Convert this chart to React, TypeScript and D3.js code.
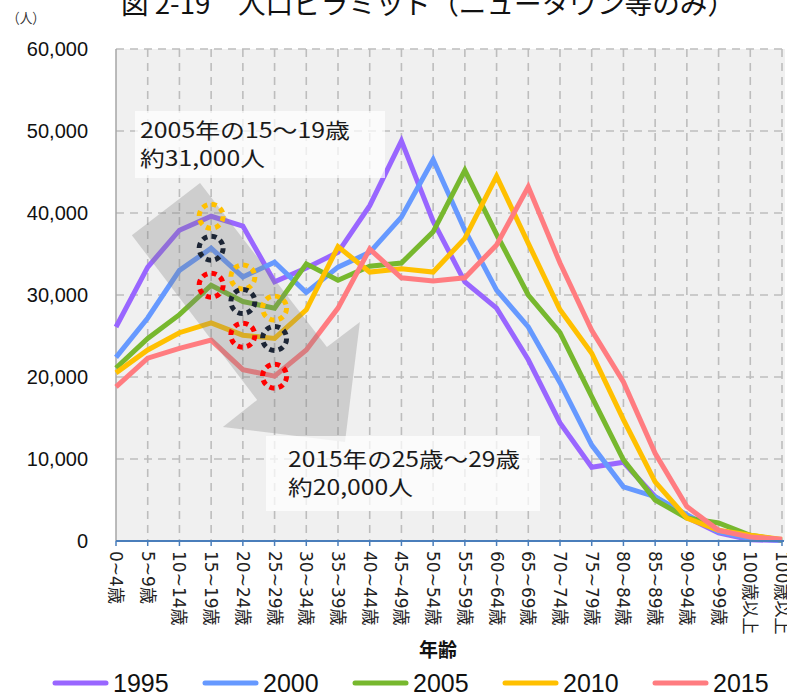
import React from "react";
import * as d3 from "d3";

const categories = [
  "0~4歳", "5~9歳", "10~14歳", "15~19歳", "20~24歳", "25~29歳", "30~34歳",
  "35~39歳", "40~44歳", "45~49歳", "50~54歳", "55~59歳", "60~64歳", "65~69歳",
  "70~74歳", "75~79歳", "80~84歳", "85~89歳", "90~94歳", "95~99歳", "100歳以上", "100歳以上",
];

const years = ["1995", "2000", "2005", "2010", "2015"];
const colors = ["#9966ff", "#6699ff", "#77b82e", "#ffc000", "#ff7c80"];

const v1995 = [26100, 33400, 37900, 39600, 38400, 31600, 33300, 35200, 40900, 48800, 39000, 31600, 28400, 22100, 14400, 9000, 9600, 5400, 2900, 1000, 150, 50];
const v2000 = [22400, 27200, 33000, 35700, 32200, 34000, 30300, 33400, 35200, 39500, 46500, 37900, 30600, 26100, 19300, 11700, 6600, 5400, 3200, 1100, 300, 100];
const v2005 = [21100, 24700, 27600, 31200, 29200, 28400, 33800, 31800, 33500, 33900, 37700, 45200, 37400, 30000, 25400, 17600, 9900, 5000, 2800, 2200, 700, 100];
const v2010 = [20500, 23300, 25400, 26600, 25100, 24700, 28200, 35900, 32800, 33200, 32800, 36900, 44500, 36300, 28200, 22900, 14800, 7200, 2800, 1300, 700, 200];
const v2015 = [18800, 22300, 23500, 24500, 20900, 20100, 23300, 28400, 35600, 32100, 31700, 32100, 36100, 43200, 33900, 25700, 19400, 10700, 4200, 1300, 500, 200];
const seriesValues = [v1995, v2000, v2005, v2010, v2015];

const yTicks = [0, 10000, 20000, 30000, 40000, 50000, 60000];

// cohort circles: [seriesIndex, categoryIndex]
const circleColors = ["#ffc000", "#1c2535", "#ff0000"];
const cohortYellow = [[0, 3], [1, 4], [2, 5]];
const cohortBlack = [[1, 3], [2, 4], [3, 5]];
const cohortRed = [[2, 3], [3, 4], [4, 5]];
const cohorts = [cohortYellow, cohortBlack, cohortRed];

// arrow polygon in (category index, value) space
const arrowPts = [
  [0.5, 37300], [2.65, 43650], [6.65, 23650], [7.69, 26700], [7.22, 12070], [3.37, 13900], [4.45, 17200],
];

const titleText = "図 2-19　人口ピラミッド（ニュータウン等のみ）";
const note1 = ["2005年の15〜19歳", "約31,000人"];
const note2 = ["2015年の25歳〜29歳", "約20,000人"];

const W = 787;
const H = 695;
const left = 116;
const right = 782;
const top = 49;
const bottom = 541;

const CJK = "'Noto Sans CJK JP', 'Noto Sans', sans-serif";
const LABEL = "'DejaVu Sans', 'Noto Sans CJK JP', sans-serif";
const SANS = "'Liberation Sans', Arial, sans-serif";

export default function App() {
  const x = d3.scaleLinear().domain([0, categories.length - 1]).range([left, right]);
  const y = d3.scaleLinear().domain([0, 60000]).range([bottom, top]);

  const line = d3
    .line<number>()
    .x((_, i) => x(i))
    .y((d) => y(d));

  const arrowPath =
    "M" + arrowPts.map((p) => `${x(p[0])},${y(p[1])}`).join("L") + "Z";

  const circleR = 12;
  const circ = 2 * Math.PI * circleR;
  const dash = circ / 8;

  return (
    <div style={{ position: "absolute", left: 0, top: 0 }}>
      <svg width={W} height={H} style={{ display: "block" }}>
        <rect x={0} y={0} width={W} height={H} fill="#ffffff" />
        {/* title */}
        <text x={121} y={14} fontFamily={CJK} fontSize={27} fill="#111" textLength={614} lengthAdjust="spacingAndGlyphs" xmlSpace="preserve">
          {titleText}
        </text>
        <text x={7} y={23} fontFamily={CJK} fontSize={14} fill="#333" textLength={38} lengthAdjust="spacingAndGlyphs">（人）</text>

        {/* plot bg */}
        <rect x={left} y={top} width={right - left + 3} height={bottom - top} fill="#f0f0f0" />

        {/* horizontal grid */}
        {yTicks.filter((t) => t > 0).map((t) => (
          <line key={"h" + t} x1={left} x2={right + 3} y1={y(t)} y2={y(t)} stroke="#bdbdbd" strokeWidth={1.6} strokeDasharray="8 6" />
        ))}
        {/* vertical grid */}
        {categories.map((_, i) =>
          i === 0 ? null : (
            <line key={"v" + i} x1={x(i)} x2={x(i)} y1={top} y2={bottom} stroke="#bdbdbd" strokeWidth={1.6} strokeDasharray="8 6" />
          )
        )}
        {/* left axis */}
        <line x1={left} x2={left} y1={top} y2={bottom} stroke="#a6a6a6" strokeWidth={1.5} />
        {yTicks.map((t) => (
          <text key={"yt" + t} x={88} y={y(t)} dy="0.35em" textAnchor="end" fontFamily={SANS} fontSize={20} fill="#111">
            {d3.format(",")(t)}
          </text>
        ))}

        {/* series lines */}
        {seriesValues.map((vals, si) => (
          <path key={"s" + si} d={line(vals) || ""} fill="none" stroke={colors[si]} strokeWidth={5} strokeLinejoin="miter" />
        ))}

        {/* x axis */}
        <line x1={left} x2={right + 2} y1={bottom} y2={bottom} stroke="#4a7ebb" strokeWidth={2} />
        {categories.map((_, i) => (
          <line key={"xt" + i} x1={x(i)} x2={x(i)} y1={bottom} y2={bottom + 5} stroke="#4a7ebb" strokeWidth={1.5} />
        ))}
        {categories.map((c, i) => (
          <text
            key={"xl" + i}
            transform={`translate(${x(i)},${bottom + 10}) rotate(90)`}
            dy="0.35em"
            fontFamily={LABEL}
            fontSize={17}
            fill="#222"
          >
            {c}
          </text>
        ))}

        {/* arrow */}
        <path d={arrowPath} fill="#808080" fillOpacity={0.3} />

        {/* cohort circles */}
        {cohorts.map((grp, gi) =>
          grp.map(([si, ci], k) => (
            <circle
              key={"c" + gi + "-" + k}
              cx={x(ci)}
              cy={y(seriesValues[si][ci])}
              r={circleR}
              fill="none"
              stroke={circleColors[gi]}
              strokeWidth={5}
              strokeDasharray={`${dash * 0.55} ${dash * 0.45}`}
            />
          ))
        )}

        {/* note boxes */}
        <rect x={135} y={111} width={250} height={67} fill="#ffffff" fillOpacity={0.72} />
        <text x={140} y={138} fontFamily={CJK} fontSize={21} fill="#1a1a1a" textLength={210} lengthAdjust="spacingAndGlyphs">{note1[0]}</text>
        <text x={140} y={166} fontFamily={CJK} fontSize={21} fill="#1a1a1a" textLength={125} lengthAdjust="spacingAndGlyphs">{note1[1]}</text>

        <rect x={266} y={436} width={274} height={75} fill="#ffffff" fillOpacity={0.72} />
        <text x={288} y={467} fontFamily={CJK} fontSize={21} fill="#1a1a1a" textLength={232} lengthAdjust="spacingAndGlyphs">{note2[0]}</text>
        <text x={288} y={495} fontFamily={CJK} fontSize={21} fill="#1a1a1a" textLength={125} lengthAdjust="spacingAndGlyphs">{note2[1]}</text>

        {/* axis title */}
        <text x={438} y={657} textAnchor="middle" fontFamily={CJK} fontSize={19} fontWeight="bold" fill="#111">年齢</text>

        {/* legend */}
        {years.map((yr, i) => {
          const lx = 53 + 150 * i;
          return (
            <g key={"lg" + yr}>
              <line x1={lx + 2} x2={lx + 53} y1={683} y2={683} stroke={colors[i]} strokeWidth={5} strokeLinecap="round" />
              <text x={lx + 60} y={683} dy="0.36em" fontFamily={SANS} fontSize={25} fill="#111">{yr}</text>
            </g>
          );
        })}
      </svg>
    </div>
  );
}
